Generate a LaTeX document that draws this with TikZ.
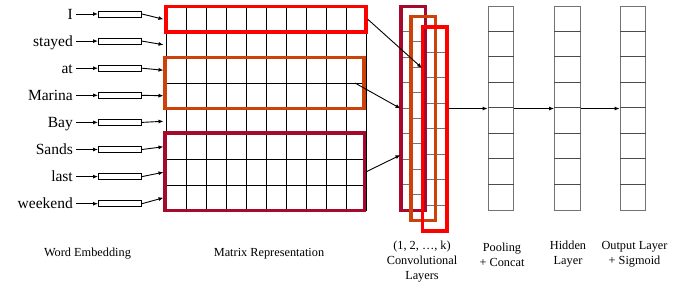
\documentclass[tikz,border=0pt]{standalone}
\usepackage{fontspec}
\setmainfont{Liberation Serif}
\newfontfamily\serifx{Liberation Serif}
\usetikzlibrary{arrows.meta}
\definecolor{cred}{RGB}{255,0,0}
\definecolor{corange}{RGB}{205,65,10}
\definecolor{ccrimson}{RGB}{165,10,45}
\begin{document}
\begin{tikzpicture}[x=1pt,y=-1pt,
  word/.style={anchor=east,inner sep=0pt,font=\serifx\fontsize{15.5}{18}\selectfont,text height=10pt,text depth=0pt},
  emb/.style={draw,line width=1pt,fill=white,minimum width=43pt,minimum height=6pt,inner sep=0pt},
  arr/.style={-{Latex[length=5pt,width=4pt]},line width=0.9pt},
  gridline/.style={line width=0.7pt},
  hl/.style={line width=3.5pt},
  cellcol/.style={fill=white,minimum width=24.5pt,minimum height=204pt,inner sep=0pt},
  convbox/.style={hl,minimum width=24.5pt,minimum height=204pt,inner sep=0pt},
  colbox/.style={draw=black!55,line width=1.3pt,minimum width=25.5pt,minimum height=204pt,inner sep=0pt},
  lab/.style={align=center,font=\serifx\fontsize{12.3}{15}\selectfont,inner sep=0pt}
]
\useasboundingbox (0,0) rectangle (685,290);

% matrix grid
\foreach \c in {0,...,10} \draw[gridline] (166+20*\c,6.5) -- (166+20*\c,210.5);
\foreach \r in {0,...,8} \draw[gridline] (166,6.5+25.5*\r) -- (366,6.5+25.5*\r);

% words and embeddings
\foreach \w [count=\i from 0] in {I,stayed,at,Marina,Bay,Sands,last,weekend} {
  \pgfmathsetmacro\yy{14+27.1*\i}
  \pgfmathsetmacro\my{6.5+25.5*\i+12.75}
  \node[word] (w\i) at (73,\yy) {\w};
  \node[emb] (e\i) at (120,\yy) {};
  \coordinate (m\i) at (163.5,\my);
  \draw[arr,shorten <=3pt] (w\i.east) -- (e\i.west);
  \draw[arr] (e\i.east) -- (m\i);
}

% highlight boxes on the matrix
\node[draw=cred,hl,minimum width=200pt,minimum height=25.5pt,inner sep=0pt] (bred) at (266,19.25) {};
\node[draw=corange,hl,minimum width=199pt,minimum height=51pt,inner sep=0pt] (bor) at (264.5,83) {};
\node[draw=ccrimson,hl,minimum width=199.5pt,minimum height=77.5pt,inner sep=0pt] (bcr) at (264.75,171.75) {};

% convolutional columns: cells
\foreach \n/\cx/\cy in {k1/413/108.5, k2/423/118.5, k3/434.5/129} {
  \node[cellcol] (\n) at (\cx,\cy) {};
  \foreach \r in {1,...,7}
    \draw[black!55,line width=0.9pt] ([yshift=-25.5*\r pt]\n.north west) -- ([yshift=-25.5*\r pt]\n.north east);
}
% convolutional columns: borders
\node[draw=ccrimson,convbox] (c1) at (k1) {};
\node[draw=corange,convbox] (c2) at (k2) {};
\node[draw=cred,convbox] (c3) at (k3) {};

% pooling, hidden, output columns
\foreach \n/\cx in {pool/501, hid/567.5, out/633} {
  \node[colbox] (\n) at (\cx,108.5) {};
  \foreach \r in {1,...,7}
    \draw[black!70,line width=0.9pt] ([yshift=-25.5*\r pt]\n.north west) -- ([yshift=-25.5*\r pt]\n.north east);
}

% arrows into convolution
\coordinate (t1) at (422,68);
\coordinate (s2) at (355,83);
\coordinate (t2) at (400.5,108.5);
\coordinate (t3) at (400.5,155);
\draw[arr] (bred.east) -- (t1);
\draw[arr] (s2) -- (t2);
\draw[arr] (bcr.east) -- (t3);

% arrows between layers
\draw[arr] (c3.east |- pool.west) -- (pool.west);
\draw[arr] (pool.east) -- (hid.west);
\draw[arr] (hid.east) -- (out.west);

% labels
\node[lab] (l1) at (87.5,254) {Word Embedding};
\node[lab] (l2) at (269,254) {Matrix Representation};
\node[lab] (l3) at (422,262) {(1, 2, …, k)\\Convolutional\\Layers};
\node[lab] (l4) at (502,254.5) {Pooling\\+ Concat};
\node[lab] (l5) at (568,254.5) {Hidden\\Layer};
\node[lab] (l6) at (634.5,254.5) {Output Layer\\+ Sigmoid};
\end{tikzpicture}
\end{document}
